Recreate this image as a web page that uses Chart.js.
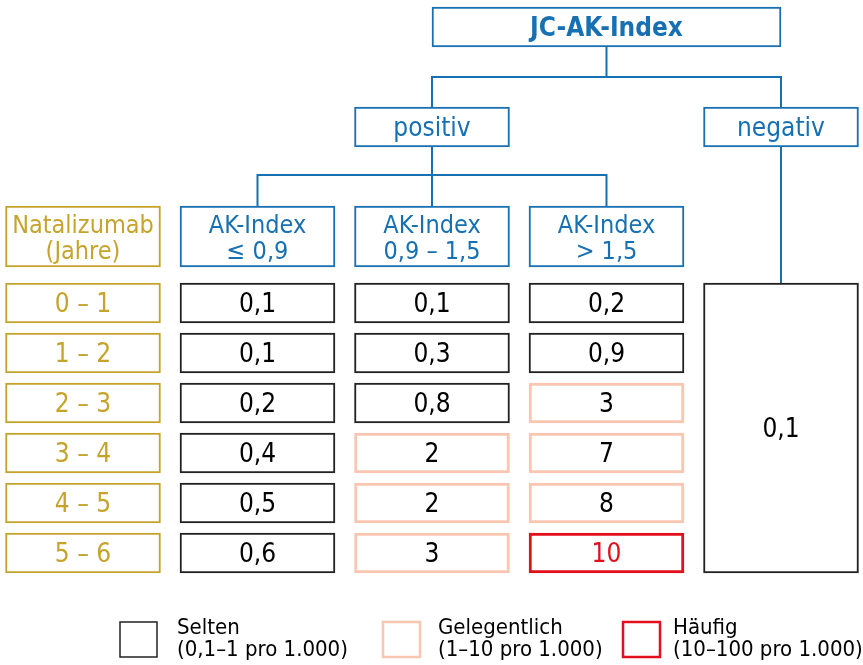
<!DOCTYPE html>
<html><head><meta charset="utf-8">
<script src="https://cdn.jsdelivr.net/npm/chart.js@4/dist/chart.umd.min.js"></script>
<style>html,body{margin:0;padding:0;background:#fff}#wrap{width:863px;height:665px;position:relative}</style>
</head><body><div id="wrap"><canvas id="c"></canvas></div>
<script>
// ---------- data ----------
const title = 'JC-AK-Index';
const branches = ['positiv', 'negativ'];
const ageHeader = ['Natalizumab', '(Jahre)'];
const ageGroups = ['0 – 1', '1 – 2', '2 – 3', '3 – 4', '4 – 5', '5 – 6'];
const akHeaders = [['AK-Index', '≤ 0,9'], ['AK-Index', '0,9 – 1,5'], ['AK-Index', '> 1,5']];
const riskAkLow = [0.1, 0.1, 0.2, 0.4, 0.5, 0.6];
const riskAkMid = [0.1, 0.3, 0.8, 2, 2, 3];
const riskAkHigh = [0.2, 0.9, 3, 7, 8, 10];
const riskNegative = [0.1];
const legendNames = ['Selten', 'Gelegentlich', 'Häufig'];
const legendRanges = ['(0,1–1 pro 1.000)', '(1–10 pro 1.000)', '(10–100 pro 1.000)'];
const classLimits = [1, 10]; // per 1.000: <1 selten, <10 gelegentlich, else häufig

// ---------- styles / layout ----------
const FONT = '"DejaVu Sans Condensed", "Liberation Sans Narrow", sans-serif';
const BLUE = '#1770b2', GOLD = '#c6a42c';
const CLASS_COLORS = ['#222222', '#f8c6b1', '#e2101d'];
const CLASS_WIDTH = [2, 3, 3];
const HALF = 0.444;              // half column width in column units
const L = { headerY: -1.33, branchY: -3.52, titleY: -5.52,
            titleBottom: -5.12, mid1: -4.52, branchTop: -3.92,
            branchBottom: -3.12, mid2: -2.56, headerTop: -1.94, rowTop: -0.4 };

const fmt = v => String(v).replace('.', ',');
const cls = v => v < classLimits[0] ? 0 : (v < classLimits[1] ? 1 : 2);
const span = c => [c - HALF, c + HALF];

function riskDataset(label, col, values) {
  return {
    label, data: values.map((v, i) => ({ y: i, x: span(col) })),
    barThickness: 40,
    backgroundColor: '#ffffff',
    borderColor: values.map(v => CLASS_COLORS[cls(v)]),
    borderWidth: values.map(v => CLASS_WIDTH[cls(v)]),
    texts: values.map(v => [fmt(v)]),
    textColors: values.map(v => cls(v) === 2 ? CLASS_COLORS[2] : '#000000'),
    fontSpec: '26px ' + FONT
  };
}

const datasets = [
  { label: 'title', data: [{ y: L.titleY, x: [2, 4] }], barThickness: 40,
    backgroundColor: '#fff', borderColor: BLUE, borderWidth: 2,
    texts: [[title]], textColors: [BLUE], fontSpec: 'bold 26px ' + FONT },
  { label: 'branches', data: branches.map((b, i) => ({ y: L.branchY, x: span(2 + 2 * i) })), barThickness: 40,
    backgroundColor: '#fff', borderColor: BLUE, borderWidth: 2,
    texts: branches.map(b => [b]), textColors: [BLUE, BLUE], fontSpec: '26px ' + FONT },
  { label: 'headers', data: [0, 1, 2, 3].map(c => ({ y: L.headerY, x: span(c) })), barThickness: 61,
    backgroundColor: '#fff', borderColor: [GOLD, BLUE, BLUE, BLUE], borderWidth: 2,
    texts: [ageHeader].concat(akHeaders), textColors: [GOLD, BLUE, BLUE, BLUE], fontSpec: '25px ' + FONT },
  { label: 'ages', data: ageGroups.map((g, i) => ({ y: i, x: span(0) })), barThickness: 40,
    backgroundColor: '#fff', borderColor: GOLD, borderWidth: 2,
    texts: ageGroups.map(g => [g]), textColors: ageGroups.map(() => GOLD), fontSpec: '26px ' + FONT },
  riskDataset('AK ≤ 0,9', 1, riskAkLow),
  riskDataset('AK 0,9 – 1,5', 2, riskAkMid),
  riskDataset('AK > 1,5', 3, riskAkHigh),
  { label: 'negativ', data: [{ y: (ageGroups.length - 1) / 2, x: span(4) }], barThickness: 290,
    backgroundColor: '#fff', borderColor: CLASS_COLORS[cls(riskNegative[0])], borderWidth: 2,
    texts: [[fmt(riskNegative[0])]], textColors: ['#000'], fontSpec: '26px ' + FONT }
];

// ---------- plugin: connectors, labels, legend ----------
const diagramPlugin = {
  id: 'diagram',
  beforeDatasetsDraw(chart) {
    const ctx = chart.ctx, X = chart.scales.x, Y = chart.scales.y;
    const px = c => X.getPixelForValue(c), py = r => Y.getPixelForValue(r);
    ctx.save();
    ctx.strokeStyle = BLUE; ctx.lineWidth = 2;
    function elbow(pc, fromR, midR, kids, toR) {
      ctx.beginPath();
      ctx.moveTo(px(pc), py(fromR)); ctx.lineTo(px(pc), py(midR));
      ctx.moveTo(px(Math.min(...kids)) - 1, py(midR)); ctx.lineTo(px(Math.max(...kids)) + 1, py(midR));
      kids.forEach(k => { ctx.moveTo(px(k), py(midR)); ctx.lineTo(px(k), py(toR)); });
      ctx.stroke();
    }
    elbow(3, L.titleBottom, L.mid1, [2, 4], L.branchTop);
    elbow(2, L.branchBottom, L.mid2, [1, 2, 3], L.headerTop);
    ctx.beginPath(); ctx.moveTo(px(4), py(L.branchBottom)); ctx.lineTo(px(4), py(L.rowTop)); ctx.stroke();
    ctx.restore();
  },
  afterDatasetsDraw(chart) {
    const ctx = chart.ctx;
    ctx.save();
    ctx.textAlign = 'center'; ctx.textBaseline = 'alphabetic';
    chart.data.datasets.forEach((ds, di) => {
      const meta = chart.getDatasetMeta(di);
      ctx.font = ds.fontSpec;
      const size = parseFloat(ds.fontSpec.match(/(\d+)px/)[1]);
      meta.data.forEach((el, i) => {
        const p = el.getProps(['x', 'y', 'base'], true);
        const cx = (p.x + p.base) / 2;
        const lines = ds.texts[i];
        const lh = 26;
        const y0 = p.y + 0.36 * size - (lines.length - 1) * lh / 2;
        ctx.fillStyle = ds.textColors[i];
        lines.forEach((t, k) => ctx.fillText(t, cx, y0 + k * lh));
      });
    });
    // legend
    const boxX = [119, 382, 622], textX = [177, 438, 673];
    ctx.textAlign = 'left';
    ctx.font = '22px ' + FONT;
    legendNames.forEach((n, i) => {
      ctx.strokeStyle = CLASS_COLORS[i]; ctx.lineWidth = CLASS_WIDTH[i] - 0.5;
      ctx.strokeRect(boxX[i] + 1, 622, 37, 35);
      ctx.fillStyle = '#000';
      ctx.fillText(n, textX[i], 634);
      ctx.fillText(legendRanges[i], textX[i], 656);
    });
    ctx.restore();
  }
};

new Chart(document.getElementById('c'), {
  type: 'bar',
  data: { datasets },
  options: {
    indexAxis: 'y', responsive: true, maintainAspectRatio: false, animation: false,
    events: [],
    layout: { padding: 0 },
    datasets: { bar: { grouped: false, borderSkipped: false } },
    plugins: { legend: { display: false }, tooltip: { enabled: false } },
    scales: {
      x: { type: 'linear', display: false, offset: false, min: -0.4756, max: 4.4699 },
      y: { type: 'linear', display: false, offset: false, reverse: true, min: -6.06, max: 7.24 }
    }
  },
  plugins: [diagramPlugin]
});
</script></body></html>
